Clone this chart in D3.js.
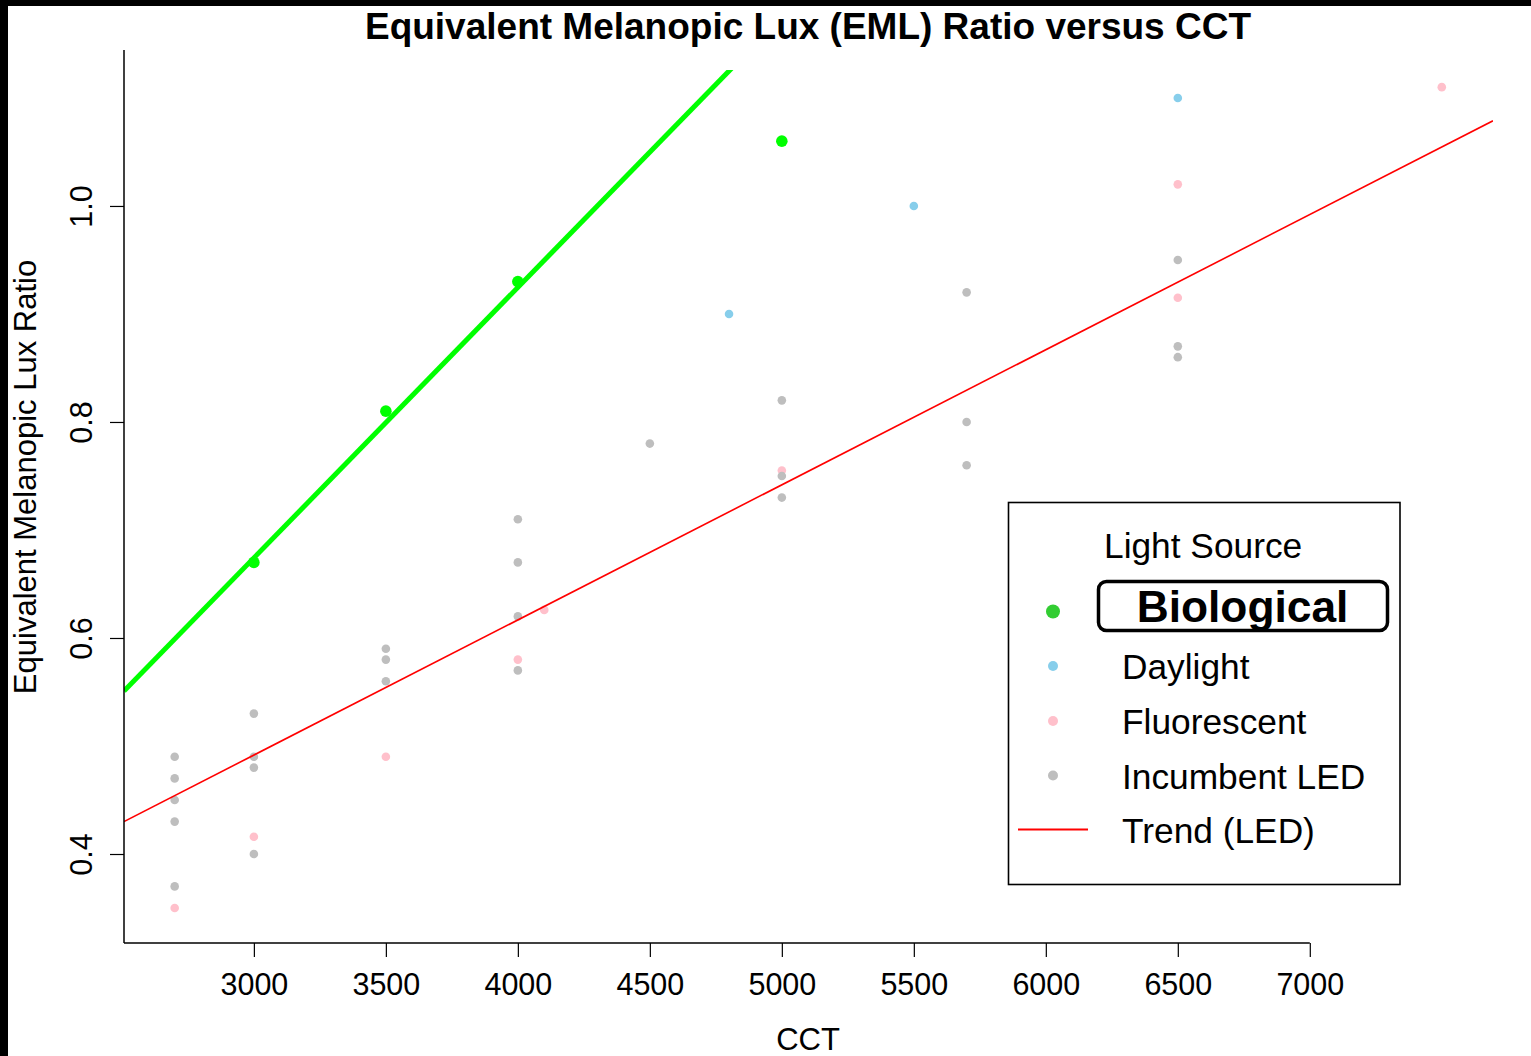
<!DOCTYPE html>
<html>
<head>
<meta charset="utf-8">
<script src="https://cdn.jsdelivr.net/npm/d3@7/dist/d3.min.js"></script>
<style>
  html, body { margin: 0; padding: 0; background: #fff; }
  svg { display: block; }
  text { font-family: "Liberation Sans", Arial, Helvetica, sans-serif; fill: #000; }
</style>
</head>
<body>
<svg id="chart" width="1531" height="1056"></svg>
<script>
// ---- data ----
const bioCCT = [3000, 3500, 4000, 5000];
const bioEML = [0.67, 0.81, 0.93, 1.06];

const dayCCT = [4800, 5500, 6500];
const dayEML = [0.90, 1.00, 1.10];

const fluCCT = [2700, 3000, 3500, 4000, 4100, 5000, 6500, 6500, 7500];
const fluEML = [0.35, 0.416, 0.49, 0.58, 0.626, 0.755, 1.02, 0.915, 1.11];

const ledCCT = [2700, 2700, 2700, 2700, 2700,
                3000, 3000, 3000, 3000,
                3500, 3500, 3500,
                4000, 4000, 4000, 4000,
                4500,
                5000, 5000, 5000,
                5700, 5700, 5700,
                6500, 6500, 6500];
const ledEML = [0.49, 0.47, 0.45, 0.43, 0.37,
                0.53, 0.49, 0.48, 0.40,
                0.59, 0.58, 0.56,
                0.71, 0.67, 0.62, 0.57,
                0.78,
                0.82, 0.75, 0.73,
                0.92, 0.80, 0.76,
                0.95, 0.87, 0.86];

// fitted lines: EML = intercept + slope * CCT
const bioFit = [-0.0773, 0.00025048];
const ledFit = [0.1163, 0.0001251];

const xTicks = [3000, 3500, 4000, 4500, 5000, 5500, 6000, 6500, 7000];
const yTicks = [0.4, 0.6, 0.8, 1.0];

const legendLabels = ["Biological", "Daylight", "Fluorescent", "Incumbent LED", "Trend (LED)"];

// ---- layout ----
const svg = d3.select("#chart");
const FONT = "'Liberation Sans', Arial, Helvetica, sans-serif";
const plotLeft = 124, plotRight = 1493, plotTop = 50, plotBottom = 943;
const xLim = [2508, 7694], yLim = [0.3176, 1.1444];

const x = d3.scaleLinear().domain(xLim).range([plotLeft, plotRight]);
const y = d3.scaleLinear().domain(yLim).range([plotBottom, plotTop]);

svg.append("rect").attr("width", 1531).attr("height", 1056).attr("fill", "#fff");

// frame strips along the top and left edges
svg.append("rect").attr("x", 0).attr("y", 0).attr("width", 1531).attr("height", 6).attr("fill", "#000");
svg.append("rect").attr("x", 0).attr("y", 0).attr("width", 8).attr("height", 1056).attr("fill", "#000");

// clipping region for the plotted marks
svg.append("clipPath").attr("id", "plotClip")
  .append("rect").attr("x", plotLeft).attr("y", 70)
  .attr("width", plotRight - plotLeft).attr("height", plotBottom - 70);

const plot = svg.append("g").attr("clip-path", "url(#plotClip)");

function drawPoints(cct, eml, color, r) {
  plot.append("g").selectAll("circle")
    .data(cct.map((c, i) => [c, eml[i]]))
    .join("circle")
    .attr("cx", d => x(d[0]))
    .attr("cy", d => y(d[1]))
    .attr("r", r)
    .attr("fill", color);
}

drawPoints(bioCCT, bioEML, "#00FF00", 5.8);
drawPoints(dayCCT, dayEML, "#87CEEB", 4.3);
drawPoints(fluCCT, fluEML, "#FFC0CB", 4.3);
drawPoints(ledCCT, ledEML, "#BEBEBE", 4.3);

function drawFit(fit, color, width) {
  const line = d3.line().x(d => x(d)).y(d => y(fit[0] + fit[1] * d));
  plot.append("path")
    .datum(xLim)
    .attr("d", line)
    .attr("fill", "none")
    .attr("stroke", color)
    .attr("stroke-width", width);
}
drawFit(bioFit, "#00FF00", 5);
drawFit(ledFit, "#FF0000", 1.6);

// ---- axes ----
svg.append("line")
  .attr("x1", plotLeft).attr("x2", x(xTicks[xTicks.length - 1]))
  .attr("y1", plotBottom).attr("y2", plotBottom)
  .attr("stroke", "#000").attr("stroke-width", 1.5);
svg.append("line")
  .attr("x1", plotLeft).attr("x2", plotLeft)
  .attr("y1", plotTop).attr("y2", plotBottom)
  .attr("stroke", "#000").attr("stroke-width", 1.5);

const xAxis = svg.append("g")
  .attr("transform", `translate(0,${plotBottom})`)
  .call(d3.axisBottom(x).tickValues(xTicks).tickSize(14).tickFormat(d3.format("d")));
xAxis.select(".domain").remove();
xAxis.selectAll(".tick line").attr("stroke", "#000").attr("stroke-width", 1.2);
xAxis.selectAll(".tick text")
  .attr("y", 52).attr("dy", null)
  .attr("font-family", FONT).attr("font-size", 30.5).attr("fill", "#000");

const yAxis = svg.append("g")
  .attr("transform", `translate(${plotLeft},0)`)
  .call(d3.axisLeft(y).tickValues(yTicks).tickSize(14).tickFormat(d3.format(".1f")));
yAxis.select(".domain").remove();
yAxis.selectAll(".tick line").attr("stroke", "#000").attr("stroke-width", 1.2);
yAxis.selectAll(".tick text")
  .attr("x", null).attr("dy", null)
  .attr("transform", "translate(-32,0) rotate(-90)")
  .attr("text-anchor", "middle")
  .attr("font-family", FONT).attr("font-size", 30.5).attr("fill", "#000");

// ---- titles ----
svg.append("text")
  .attr("x", 808).attr("y", 39)
  .attr("text-anchor", "middle")
  .attr("font-weight", "bold").attr("font-size", 37)
  .text("Equivalent Melanopic Lux (EML) Ratio versus CCT");

svg.append("text")
  .attr("x", 808).attr("y", 1050)
  .attr("text-anchor", "middle")
  .attr("font-size", 31)
  .text("CCT");

svg.append("text")
  .attr("transform", "translate(36,477) rotate(-90)")
  .attr("text-anchor", "middle")
  .attr("font-size", 31)
  .text("Equivalent Melanopic Lux Ratio");

// ---- legend ----
const lg = svg.append("g");
lg.append("rect")
  .attr("x", 1008.5).attr("y", 502.5).attr("width", 391.5).attr("height", 382)
  .attr("fill", "#fff").attr("stroke", "#000").attr("stroke-width", 1.6);

lg.append("text").attr("x", 1104).attr("y", 558).attr("font-size", 35.3).text("Light Source");

// highlighted first entry
lg.append("rect")
  .attr("x", 1098.5).attr("y", 581.5).attr("width", 289).attr("height", 49)
  .attr("rx", 8).attr("ry", 8)
  .attr("fill", "none").attr("stroke", "#000").attr("stroke-width", 3.5);
lg.append("circle").attr("cx", 1053).attr("cy", 611.5).attr("r", 7).attr("fill", "#32CD32");
lg.append("text").attr("x", 1242.5).attr("y", 622)
  .attr("text-anchor", "middle").attr("font-weight", "bold").attr("font-size", 44.3)
  .text(legendLabels[0]);

const legendColors = ["#87CEEB", "#FFC0CB", "#BEBEBE"];
const dotY = [666, 721, 775.5];
const textY = [679, 733.5, 788.5];
legendColors.forEach((c, i) => {
  lg.append("circle").attr("cx", 1053).attr("cy", dotY[i]).attr("r", 5).attr("fill", c);
  lg.append("text").attr("x", 1122).attr("y", textY[i]).attr("font-size", 35.3).text(legendLabels[i + 1]);
});
lg.append("line")
  .attr("x1", 1018).attr("x2", 1088).attr("y1", 829.5).attr("y2", 829.5)
  .attr("stroke", "#FF0000").attr("stroke-width", 2);
lg.append("text").attr("x", 1122).attr("y", 843).attr("font-size", 35.3).text(legendLabels[4]);
</script>
</body>
</html>
